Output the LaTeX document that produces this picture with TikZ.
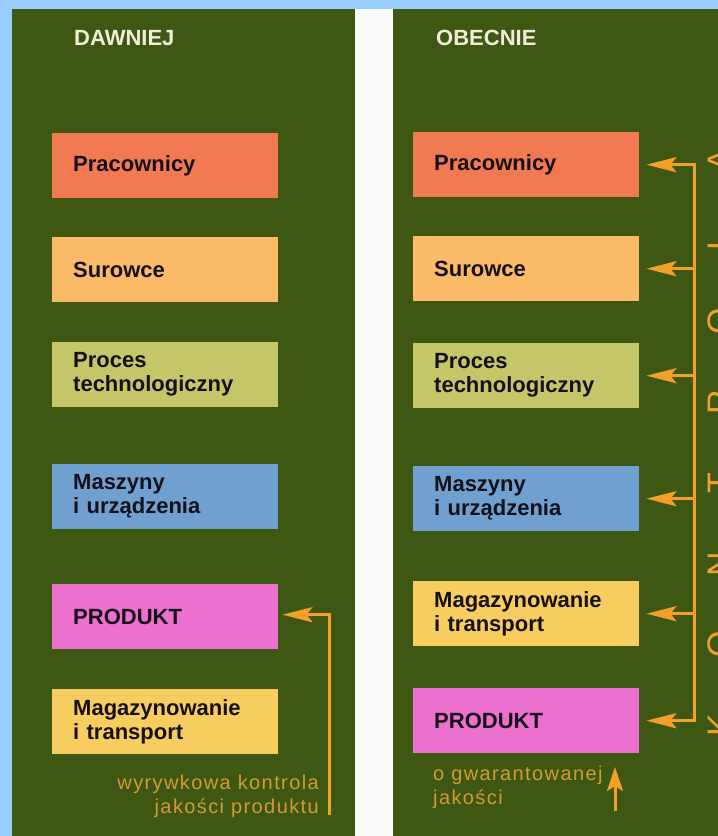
\documentclass[tikz,border=0pt]{standalone}
\usepackage{fontspec}
\setmainfont{Liberation Sans}
\usetikzlibrary{arrows.meta}
\definecolor{bgblue}{RGB}{153,204,255}
\definecolor{panelgreen}{RGB}{62,88,20}
\definecolor{gapwhite}{RGB}{250,250,250}
\definecolor{boxtext}{RGB}{22,16,26}
\definecolor{titlecol}{RGB}{240,236,215}
\definecolor{cPrac}{RGB}{242,122,82}
\definecolor{cSur}{RGB}{250,186,104}
\definecolor{cProc}{RGB}{196,198,104}
\definecolor{cMasz}{RGB}{112,160,208}
\definecolor{cProd}{RGB}{236,112,206}
\definecolor{cMag}{RGB}{247,205,96}
\definecolor{arrcol}{RGB}{242,160,40}
\definecolor{notecol}{RGB}{212,152,52}
\tikzset{otip/.tip={Stealth[length=30pt, width=15pt, inset=6pt]},
  smalltip/.tip={Stealth[length=24pt, width=16pt, inset=5pt]}}
\begin{document}
\begin{tikzpicture}[x=1pt,y=-1pt,
  box/.style={draw=none, minimum width=226pt, minimum height=65pt, text width=184pt,
    inner xsep=21pt, inner ysep=2pt, align=left, anchor=north west,
    font=\bfseries\fontsize{22}{24}\selectfont, text=boxtext},
  title/.style={anchor=base west, inner sep=0pt, text=titlecol,
    font=\bfseries\fontsize{22}{24}\selectfont},
  note/.style={inner sep=0pt, text=notecol,
    font=\fontsize{20}{23.5}\selectfont\addfontfeatures{LetterSpace=7}},
  conn/.style={draw=arrcol, line width=3pt, line join=miter},
  kletter/.style={anchor=base, inner sep=0pt, rotate=90, text=arrcol,
    font=\fontsize{34}{34}\selectfont}
]
\useasboundingbox (0,0) rectangle (718,836);
% background
\fill[bgblue] (0,0) rectangle (718,836);
\fill[gapwhite] (355,9) rectangle (393,836);
\fill[panelgreen] (12,9) rectangle (355,836);
\fill[panelgreen] (393,9) rectangle (718,836);

% titles
\node[title] (tL) at (74,45) {DAWNIEJ};
\node[title] (tR) at (436,45) {OBECNIE};

% left column
\node[box, fill=cPrac] (lP) at (52,133) {Pracownicy};
\node[box, fill=cSur]  (lS) at (52,237) {Surowce};
\node[box, fill=cProc] (lT) at (52,342) {Proces\\technologiczny};
\node[box, fill=cMasz] (lM) at (52,464) {Maszyny\\i urządzenia};
\node[box, fill=cProd] (lPr) at (52,584) {PRODUKT};
\node[box, fill=cMag]  (lG) at (52,689) {Magazynowanie\\i transport};

% right column
\node[box, fill=cPrac] (rP) at (413,132) {Pracownicy};
\node[box, fill=cSur]  (rS) at (413,236) {Surowce};
\node[box, fill=cProc] (rT) at (413,343) {Proces\\technologiczny};
\node[box, fill=cMasz] (rM) at (413,466) {Maszyny\\i urządzenia};
\node[box, fill=cMag]  (rG) at (413,581) {Magazynowanie\\i transport};
\node[box, fill=cProd] (rPr) at (413,688) {PRODUKT};

% notes
\node[note, anchor=north east, align=right] (nL) at (319,775) {wyrywkowa kontrola\\jakości produktu};
\node[note, anchor=north west, align=left] (nR) at (433,766) {o gwarantowanej\\jakości};

% left feedback arrow
\coordinate (lstart) at (329,815);
\draw[conn, -{otip}, shorten >=4pt] (lstart) |- ([yshift=2pt]lPr.east);

% right bus
\coordinate (busx) at (694,0);
\draw[conn, {otip}-{otip}, shorten <=7pt, shorten >=7pt]
  (rP.east) -- (busx |- rP.east) -- (busx |- rPr.east) -- (rPr.east);
\draw[conn, -{otip}, shorten >=7pt] (busx |- rS.east) -- (rS.east);
\draw[conn, -{otip}, shorten >=7pt] (busx |- rT.east) -- (rT.east);
\draw[conn, -{otip}, shorten >=7pt] (busx |- rM.east) -- (rM.east);
\draw[conn, -{otip}, shorten >=7pt] (busx |- rG.east) -- (rG.east);

% small up arrow
\coordinate (ua) at (615,811);
\coordinate (ub) at (615,767);
\draw[conn, -{smalltip}] (ua) -- (ub);

% cut-off vertical word at the right edge
\begin{scope}
\clip (0,0) rectangle (718,836);
\foreach \l/\yy [count=\i] in {K/725, O/644, N/564, T/483, R/402, O/321, L/241, A/160}
  \node[kletter] (k\i) at (731,\yy) {\l};
\end{scope}
\end{tikzpicture}
\end{document}
